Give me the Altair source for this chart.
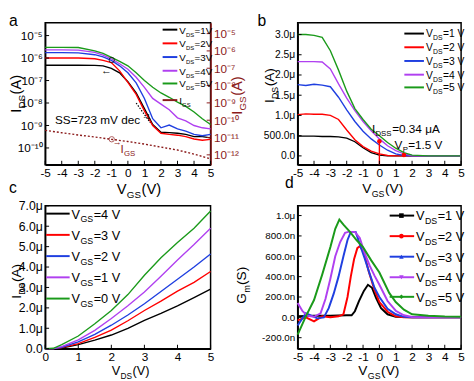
import altair as alt
import pandas as pd

FONT = "Liberation Sans"
COLORS = ["#000000", "#ff0000", "#1f3fe0", "#b040f0", "#1a9a1a"]
DARK_RED = "#8b1a1a"

# ---------------- panel a : transfer curves (log) ----------------
vgs_a = [-5, -4, -3, -2, -1.5, -1, -0.5, 0, 0.5, 1, 1.5, 2, 2.5, 3, 3.5, 4, 4.5, 5]
ids_a_vds1 = [4.8e-7, 4.8e-7, 4.8e-7, 4.7e-7, 4.5e-7, 3.5e-7, 2.2e-7, 8.9e-8, 2.8e-8, 5.6e-9, 1.1e-9, 5.0e-10, 4.8e-10, 4.5e-10, 4.0e-10, 3.2e-10, 3.2e-10, 2.8e-10]
ids_a_vds2 = [1.0e-6, 1.0e-6, 1.0e-6, 9.3e-7, 7.9e-7, 6.3e-7, 2.7e-7, 8.3e-8, 2.4e-8, 4.5e-9, 1.0e-9, 4.5e-10, 4.0e-10, 3.7e-10, 3.2e-10, 2.5e-10, 2.2e-10, 2.4e-10]
ids_a_vds3 = [1.74e-6, 1.74e-6, 1.7e-6, 1.41e-6, 1.12e-6, 7.9e-7, 4.5e-7, 2.2e-7, 7.9e-8, 1.6e-8, 2.0e-9, 7.9e-10, 1.05e-9, 7.1e-10, 5.6e-10, 4.0e-10, 3.5e-10, 4.0e-10]
ids_a_vds4 = [2.3e-6, 2.3e-6, 2.24e-6, 1.78e-6, 1.35e-6, 9.3e-7, 5.6e-7, 3.2e-7, 1.4e-7, 5.0e-8, 1.6e-8, 8.9e-9, 5.0e-9, 2.2e-9, 1.6e-9, 1.0e-9, 7.9e-10, 7.1e-10]
ids_a_vds5 = [3.0e-6, 3.0e-6, 2.95e-6, 2.1e-6, 1.6e-6, 1.07e-6, 7.1e-7, 4.5e-7, 2.2e-7, 1.0e-7, 5.0e-8, 2.8e-8, 1.8e-8, 1.1e-8, 7.1e-9, 4.0e-9, 2.0e-9, 1.1e-9]
vgs_igs = [-5, -4, -3, -2, -1, 0, 1, 2, 3, 4, 5]
igs_a = [2.6e-11, 1.9e-11, 1.4e-11, 1.07e-11, 7.9e-12, 5.9e-12, 4.2e-12, 2.8e-12, 1.9e-12, 1.1e-12, 5.9e-13]
ss_vgs = [0.5, 1.35]
ss_ids = [1.0e-8, 1.35e-9]
ticks_a_left = [1e-10, 1e-9, 1e-8, 1e-7, 1e-6, 1e-5]
ticks_a_right = [1e-12, 1e-11, 1e-10, 1e-9, 1e-8, 1e-7, 1e-6, 1e-5]

# ---------------- panel b : transfer curves (linear, uA) ----------------
vgs_b = [-5, -4.5, -4, -3.5, -3, -2.5, -2, -1.5, -1, -0.5, 0, 0.5, 1, 1.5, 2, 3, 4, 5]
ids_b_vds1 = [0.49, 0.49, 0.49, 0.48, 0.48, 0.47, 0.44, 0.35, 0.2, 0.08, 0.02, 0.0, 0.0, 0.0, 0.0, 0.0, 0.0, 0.0]
ids_b_vds2 = [1.02, 1.04, 1.03, 1.03, 1.0, 0.9, 0.64, 0.4, 0.23, 0.12, 0.05, 0.01, 0.0, 0.0, 0.0, 0.0, 0.0, 0.0]
ids_b_vds3 = [1.76, 1.74, 1.77, 1.75, 1.71, 1.45, 1.14, 0.85, 0.61, 0.42, 0.27, 0.14, 0.05, 0.01, 0.0, 0.0, 0.0, 0.0]
ids_b_vds4 = [2.33, 2.33, 2.33, 2.32, 2.15, 1.78, 1.43, 1.12, 0.85, 0.62, 0.42, 0.25, 0.13, 0.05, 0.01, 0.0, 0.0, 0.0]
ids_b_vds5 = [3.0, 3.0, 2.98, 2.93, 2.6, 2.12, 1.6, 1.17, 0.9, 0.66, 0.5, 0.33, 0.19, 0.08, 0.02, 0.0, 0.0, 0.0]
idss_point = [0.0, 0.36]
vp_point = [1.5, 0.02]
ticks_b_y = [0, 0.5, 1.0, 1.5, 2.0, 2.5, 3.0]

# ---------------- panel c : output curves (uA) ----------------
vds_c = [0, 0.25, 0.5, 1, 1.5, 2, 2.5, 3, 3.5, 4, 4.5, 5]
ids_c_vgs4 = [0, 0, 0.03, 0.2, 0.42, 0.67, 1.0, 1.39, 1.73, 2.1, 2.5, 2.92]
ids_c_vgs3 = [0, 0, 0.05, 0.25, 0.55, 0.91, 1.37, 1.87, 2.33, 2.82, 3.25, 3.78]
ids_c_vgs2 = [0, 0, 0.07, 0.33, 0.7, 1.15, 1.65, 2.2, 2.8, 3.4, 4.0, 4.64]
ids_c_vgs1 = [0, 0, 0.1, 0.43, 0.9, 1.48, 2.1, 2.78, 3.55, 4.35, 5.1, 5.9]
ids_c_vgs0 = [0, 0.02, 0.2, 0.62, 1.22, 1.87, 2.65, 3.6, 4.45, 5.2, 5.9, 6.75]
ticks_c_x = [0, 1, 2, 3, 4, 5]
ticks_c_y = [0, 1, 2, 3, 4, 5, 6, 7]

# ---------------- panel d : transconductance (nS) ----------------
vgs_d1 = [-5, -4, -3, -2, -1.7, -1.5, -1.25, -0.95, -0.7, -0.45, -0.2, 0.1, 0.5, 1, 2, 3, 4, 5]
gm_d1 = [10, 15, 15, 20, 20, 60, 160, 260, 320, 290, 190, 90, 30, 5, 0, 0, 0, 0]
vgs_d2 = [-5, -4.5, -4, -3.5, -3, -2.5, -2.2, -1.95, -1.75, -1.55, -1.35, -1.2, -0.95, -0.65, -0.3, 0, 0.5, 1, 1.5, 2, 3, 4, 5]
gm_d2 = [-30, 0, -40, 10, 0, 10, 30, 200, 400, 570, 680, 700, 640, 450, 270, 150, 55, 10, 0, 0, 0, 0, 0]
vgs_d3 = [-5, -4.5, -4.2, -3.8, -3.4, -3.1, -2.8, -2.5, -2.2, -1.95, -1.75, -1.45, -1.2, -0.9, -0.6, -0.3, 0, 0.5, 1, 1.5, 2, 3, 4, 5]
gm_d3 = [-80, 40, 20, -10, 0, 90, 230, 400, 600, 760, 840, 840, 720, 580, 430, 290, 200, 85, 30, 5, 0, 0, 0, 0]
vgs_d4 = [-5, -4.7, -4.4, -4, -3.6, -3.3, -3, -2.7, -2.4, -2.1, -1.9, -1.5, -1.2, -0.9, -0.6, -0.3, 0, 0.5, 1, 1.5, 2, 3, 4, 5]
gm_d4 = [140, 60, 15, 5, 40, 180, 380, 600, 740, 830, 840, 840, 780, 630, 510, 410, 320, 160, 65, 20, 3, 0, 0, 0]
vgs_d5 = [-5, -4.5, -4, -3.5, -3, -2.7, -2.45, -2.2, -1.8, -1.4, -1, -0.5, 0, 0.3, 0.6, 1, 1.5, 2, 3, 4, 5]
gm_d5 = [-170, 10, 170, 420, 690, 870, 960, 910, 840, 760, 690, 560, 440, 340, 240, 150, 75, 30, 15, 8, 5]
ticks_d_y = [-200, 0, 200, 400, 600, 800, 1000]

ticks_vgs = [-5, -4, -3, -2, -1, 0, 1, 2, 3, 4, 5]
vds_names = ["1", "2", "3", "4", "5"]
vgs_names = ["4", "3", "2", "1", "0"]

# ---------------- helpers ----------------
CW = {" ": 278, "(": 333, ")": 333, "=": 584, ".": 278, "-": 333, "μ": 576,
      "A": 667, "D": 722, "G": 778, "I": 278, "P": 667, "S": 667, "V": 667,
      "a": 556, "c": 500, "d": 556, "e": 556, "m": 833, "n": 556, "s": 500}


def tw(s, fs):
    return sum(CW.get(ch, 556) for ch in s) * fs / 1000.0 * 1.04


def rich(rows, pieces, x, y, color="black", rotate=False):
    adv = 0.0
    for txt, fs, shift in pieces:
        if rotate:
            rows.append({"px": x + shift, "py": y - adv, "t": txt, "fs": fs, "c": color, "ang": 270})
        else:
            rows.append({"px": x + adv, "py": y + shift, "t": txt, "fs": fs, "c": color, "ang": 0})
        adv += tw(txt, fs)


def text_layer(rows):
    return alt.Chart(pd.DataFrame(rows)).mark_text(align="left", baseline="alphabetic", font=FONT).encode(
        x=alt.X("px:Q", scale=None), y=alt.Y("py:Q", scale=None), text="t:N",
        size=alt.Size("fs:Q", scale=None), color=alt.Color("c:N", scale=None),
        angle=alt.Angle("ang:Q", scale=None))


def swatch_layer(rows, width=2.0):
    return alt.Chart(pd.DataFrame(rows)).mark_rule(strokeWidth=width).encode(
        x=alt.X("x1:Q", scale=None), x2="x2:Q", y=alt.Y("y:Q", scale=None),
        color=alt.Color("c:N", scale=None))


def xticks(values, field, xenc, h, color="black"):
    return alt.Chart(pd.DataFrame({field: values})).mark_rule(strokeWidth=1, color=color).encode(
        x=xenc, y=alt.value(h), y2=alt.value(h - 4))


def yticks(values, field, yenc, x0, x1, color="black"):
    return alt.Chart(pd.DataFrame({field: values})).mark_rule(strokeWidth=1, color=color).encode(
        y=yenc, x=alt.value(x0), x2=alt.value(x1))


def long_df(xs_list, ys_list, names, xname, yname):
    recs = []
    for xs, ys, nm in zip(xs_list, ys_list, names):
        for xv, yv in zip(xs, ys):
            recs.append({xname: xv, yname: yv, "series": nm})
    return pd.DataFrame(recs)


def x_axis(values, fs=12):
    return alt.Axis(values=values, labelExpr="'' + datum.value", title=None, labelFlush=False,
                    labelOverlap=False, labelFontSize=fs, labelPadding=3)


SUP = {"-": "\u207b", "0": "\u2070", "1": "\u00b9", "2": "\u00b2", "3": "\u00b3", "4": "\u2074",
       "5": "\u2075", "6": "\u2076", "7": "\u2077", "8": "\u2078", "9": "\u2079"}


def log_label_expr(exps):
    es = sorted(exps)
    parts = []
    for e in es[:-1]:
        lab = "10" + "".join(SUP[ch] for ch in str(e))
        parts.append("datum.value < 3e%d ? '%s' : " % (e, lab))
    last = "10" + "".join(SUP[ch] for ch in str(es[-1]))
    return "".join(parts) + "'%s'" % last


# ================= panel a =================
WA, HA = 169, 145
names_a = ["VDS=%sV" % n for n in vds_names]
df_a = long_df([vgs_a] * 5, [ids_a_vds1, ids_a_vds2, ids_a_vds3, ids_a_vds4, ids_a_vds5], names_a, "vgs", "ids")
XA = alt.X("vgs:Q", scale=alt.Scale(domain=[-5, 5], nice=False, zero=False), axis=x_axis(ticks_vgs))
YA = alt.Y("ids:Q", scale=alt.Scale(type="log", domain=[1.8e-11, 3.7e-5], nice=False),
           axis=alt.Axis(values=ticks_a_left, labelExpr=log_label_expr([-10, -9, -8, -7, -6, -5]),
                         title=None, labelFontSize=12, labelPadding=3))
lines_a = alt.Chart(df_a).mark_line(strokeWidth=1.4).encode(
    x=XA, y=YA, color=alt.Color("series:N", scale=alt.Scale(domain=names_a, range=COLORS), legend=None))
ss_line = alt.Chart(pd.DataFrame({"vgs": ss_vgs, "ids": ss_ids})).mark_line(
    color="black", strokeWidth=1.2, strokeDash=[1.5, 1.5]).encode(x=XA, y=YA)
left_a = alt.layer(lines_a, ss_line, xticks(ticks_vgs, "vgs", XA, HA),
                   yticks(ticks_a_left, "ids", YA, 0, 4))

YAR = alt.Y("igs:Q", scale=alt.Scale(type="log", domain=[2.7e-13, 4.2e-5], nice=False),
            axis=alt.Axis(orient="right", values=ticks_a_right,
                          labelExpr=log_label_expr([-12, -11, -10, -9, -8, -7, -6, -5]),
                          labelColor=DARK_RED, domainColor=DARK_RED, title=None, labelFontSize=12, labelPadding=3))
igs_line = alt.Chart(pd.DataFrame({"vgs": vgs_igs, "igs": igs_a})).mark_line(
    color=DARK_RED, strokeWidth=1.4, strokeDash=[2, 2]).encode(x=XA, y=YAR)
right_a = alt.layer(igs_line, yticks(ticks_a_right, "igs", YAR, WA, WA - 4, DARK_RED))

rows_a = []
rich(rows_a, [("a", 16, 0)], -37, 3)
rich(rows_a, [("I", 15, 0), ("DS", 10, 4), (" (A)", 15, 0)], -25, 92, rotate=True)
rich(rows_a, [("I", 15, 0), ("GS", 10, 4), (" (A)", 15, 0)], 201, 94, color=DARK_RED, rotate=True)
rich(rows_a, [("V", 15, 0), ("GS", 10, 4), (" (V)", 15, 0)], 73, 175)
leg_y_a = [7, 21, 35, 49, 62, 79]
sw_a = []
for i, n in enumerate(vds_names):
    rich(rows_a, [("V", 10, 0), ("DS", 6, 3), (" =%sV" % n, 10, 0)], 137, leg_y_a[i] + 4)
    sw_a.append({"x1": 120, "x2": 135, "y": leg_y_a[i], "c": COLORS[i]})
rich(rows_a, [("I", 10, 0), ("GS", 6, 3)], 137, leg_y_a[5] + 4)
sw_a.append({"x1": 120, "x2": 135, "y": leg_y_a[5], "c": DARK_RED})
rich(rows_a, [("SS=723 mV dec", 12, 0), ("-1", 8, -5)], 10, 103)
rich(rows_a, [("I", 12, 0), ("GS", 8, 3)], 77, 133, color=DARK_RED)
rich(rows_a, [("\u2190", 11, 0)], 57, 52)
rich(rows_a, [("\u2192", 9, 0)], 69, 125, color=DARK_RED)
circ_a = alt.Chart(pd.DataFrame({"px": [68, 68], "py": [38, 119], "c": ["black", DARK_RED]})).mark_point(
    filled=False, size=30, strokeWidth=1).encode(
    x=alt.X("px:Q", scale=None), y=alt.Y("py:Q", scale=None), color=alt.Color("c:N", scale=None))

panel_a = alt.layer(left_a, right_a, swatch_layer(sw_a), circ_a, text_layer(rows_a)).resolve_scale(
    y="independent").properties(width=WA, height=HA)

# ================= panel b =================
WB, HB = 167, 145
names_b = ["VDS=%s V" % n for n in vds_names]
df_b = long_df([vgs_b] * 5, [ids_b_vds1, ids_b_vds2, ids_b_vds3, ids_b_vds4, ids_b_vds5], names_b, "vgs", "ids")
XB = alt.X("vgs:Q", scale=alt.Scale(domain=[-5, 5], nice=False, zero=False), axis=x_axis(ticks_vgs))
YB = alt.Y("ids:Q", scale=alt.Scale(domain=[-0.218, 3.29], nice=False, zero=False),
           axis=alt.Axis(values=ticks_b_y, title=None, labelFontSize=10.5, labelPadding=3,
                         labelExpr="datum.value == 0 ? '0.0' : datum.value < 0.99 ? format(datum.value*1000, '.1f') + 'n' : format(datum.value, '.1f') + 'μ'"))
lines_b = alt.Chart(df_b).mark_line(strokeWidth=1.4).encode(
    x=XB, y=YB, color=alt.Color("series:N", scale=alt.Scale(domain=names_b, range=COLORS), legend=None))
mk_df = pd.DataFrame({"vgs": [idss_point[0], vp_point[0]], "ids": [idss_point[1], vp_point[1]]})
idss_rule = alt.Chart(mk_df.iloc[[0]]).mark_rule(color="red", strokeWidth=1.4).encode(
    x=XB, y=YB, y2=alt.value(HB))
marks_b = alt.Chart(mk_df).mark_point(filled=True, color="red", size=22, shape="circle", opacity=1).encode(x=XB, y=YB)
rows_b = []
rich(rows_b, [("b", 16, 0)], -41, 3)
rich(rows_b, [("I", 14, 0), ("DS", 9, 4), (" (A)", 14, 0)], -24, 82, rotate=True)
rich(rows_b, [("V", 14, 0), ("GS", 9, 4), (" (V)", 14, 0)], 66, 174)
leg_y_b = [11, 25, 39, 53, 66]
sw_b = []
for i, n in enumerate(vds_names):
    rich(rows_b, [("V", 10.5, 0), ("DS", 7, 3), ("=%s V" % n, 10.5, 0)], 131, leg_y_b[i] + 4)
    sw_b.append({"x1": 109, "x2": 129, "y": leg_y_b[i], "c": COLORS[i]})
rich(rows_b, [("I", 12, 0), ("DSS", 8, 3), ("=0.34 μA", 12, 0)], 76, 113)
rich(rows_b, [("V", 12, 0), ("P", 8, 3), ("=1.5 V", 12, 0)], 99, 129)
panel_b = alt.layer(lines_b, idss_rule, marks_b, xticks(ticks_vgs, "vgs", XB, HB),
                    yticks(ticks_b_y, "ids", YB, 0, 4),
                    swatch_layer(sw_b), text_layer(rows_b)).properties(width=WB, height=HB)

# ================= panel c =================
WC, HC = 169, 146
names_c = ["VGS=%s V" % n for n in vgs_names]
df_c = long_df([vds_c] * 5, [ids_c_vgs4, ids_c_vgs3, ids_c_vgs2, ids_c_vgs1, ids_c_vgs0], names_c, "vds", "ids")
XC = alt.X("vds:Q", scale=alt.Scale(domain=[0, 5], nice=False), axis=x_axis(ticks_c_x, 12))
YC = alt.Y("ids:Q", scale=alt.Scale(domain=[0, 7], nice=False),
           axis=alt.Axis(values=ticks_c_y, title=None, labelFontSize=12.5, labelPadding=3,
                         labelExpr="datum.value == 0 ? '0.0' : format(datum.value, '.1f') + 'μ'"))
lines_c = alt.Chart(df_c).mark_line(strokeWidth=1.4).encode(
    x=XC, y=YC, color=alt.Color("series:N", scale=alt.Scale(domain=names_c, range=COLORS), legend=None))
rows_c = []
rich(rows_c, [("c", 16, 0)], -37, -13)
rich(rows_c, [("I", 14, 0), ("DS", 9, 4), (" (A)", 14, 0)], -25, 95, rotate=True)
rich(rows_c, [("V", 13, 0), ("DS", 8.5, 3.5), ("(V)", 13, 0)], 68, 173)
leg_y_c = [8, 29.7, 51.4, 73.1, 94.8]
sw_c = []
for i, n in enumerate(vgs_names):
    rich(rows_c, [("V", 13, 0), ("GS", 9, 4), ("=%s V" % n, 13, 0)], 27, leg_y_c[i] + 5)
    sw_c.append({"x1": 1, "x2": 25, "y": leg_y_c[i], "c": COLORS[i]})
panel_c = alt.layer(lines_c, xticks(ticks_c_x, "vds", XC, HC), yticks(ticks_c_y, "ids", YC, 0, 4),
                    swatch_layer(sw_c), text_layer(rows_c)).properties(width=WC, height=HC)

# ================= panel d =================
WD, HD = 167, 146
names_d = ["VDS=%s V" % n for n in vds_names]
df_d = long_df([vgs_d1, vgs_d2, vgs_d3, vgs_d4, vgs_d5], [gm_d1, gm_d2, gm_d3, gm_d4, gm_d5], names_d, "vgs", "gm")
XD = alt.X("vgs:Q", scale=alt.Scale(domain=[-5, 5], nice=False, zero=False), axis=x_axis(ticks_vgs))
YD = alt.Y("gm:Q", scale=alt.Scale(domain=[-308, 1096], nice=False, zero=False),
           axis=alt.Axis(values=ticks_d_y, title=None, labelFontSize=10, labelPadding=3,
                         labelExpr="datum.value == 0 ? '0.0' : datum.value > 999 ? '1.0μ' : (datum.value < 0 ? '-' : '') + format(abs(datum.value), '.1f') + 'n'"))
lines_d = alt.Chart(df_d).mark_line(strokeWidth=2).encode(
    x=XD, y=YD, color=alt.Color("series:N", scale=alt.Scale(domain=names_d, range=COLORS), legend=None))
rows_d = []
rich(rows_d, [("d", 16, 0)], -13, -18)
rich(rows_d, [("G", 14, 0), ("m", 9, 4), (" (S)", 14, 0)], -53, 100, rotate=True)
rich(rows_d, [("V", 14, 0), ("GS", 9, 4), (" (V)", 14, 0)], 62, 173)
leg_y_d = [10, 31, 52, 73, 93]
shapes_d = ["square", "circle", "triangle-up", "triangle-down", "diamond"]
sw_d = []
pts_d = []
for i, n in enumerate(vds_names):
    rich(rows_d, [("V", 13, 0), ("DS", 9, 4), ("=%s V" % n, 13, 0)], 121, leg_y_d[i] + 5)
    sw_d.append({"x1": 94, "x2": 119, "y": leg_y_d[i], "c": COLORS[i]})
    pts_d.append({"px": 106, "py": leg_y_d[i], "c": COLORS[i], "s": shapes_d[i]})
pts_layer_d = alt.Chart(pd.DataFrame(pts_d)).mark_point(filled=True, size=22, opacity=1).encode(
    x=alt.X("px:Q", scale=None), y=alt.Y("py:Q", scale=None), color=alt.Color("c:N", scale=None),
    shape=alt.Shape("s:N", scale=None))
panel_d = alt.layer(lines_d, xticks(ticks_vgs, "vgs", XD, HD), yticks(ticks_d_y, "gm", YD, 0, 4),
                    swatch_layer(sw_d), pts_layer_d, text_layer(rows_d)).properties(width=WD, height=HD)

chart = alt.concat(panel_a, panel_b, panel_c, panel_d, columns=2,
                   spacing={"row": 42, "column": 89}, bounds="flush").properties(
    padding=0, background="white"
).configure_axis(
    labelFont=FONT, labelColor="black", domainColor="black", domainWidth=1.5, ticks=False,
    grid=False, titleFont=FONT
).configure_view(stroke="black", strokeWidth=1.5)

chart.save("out.html", embed_options={"renderer": "svg", "actions": False})
